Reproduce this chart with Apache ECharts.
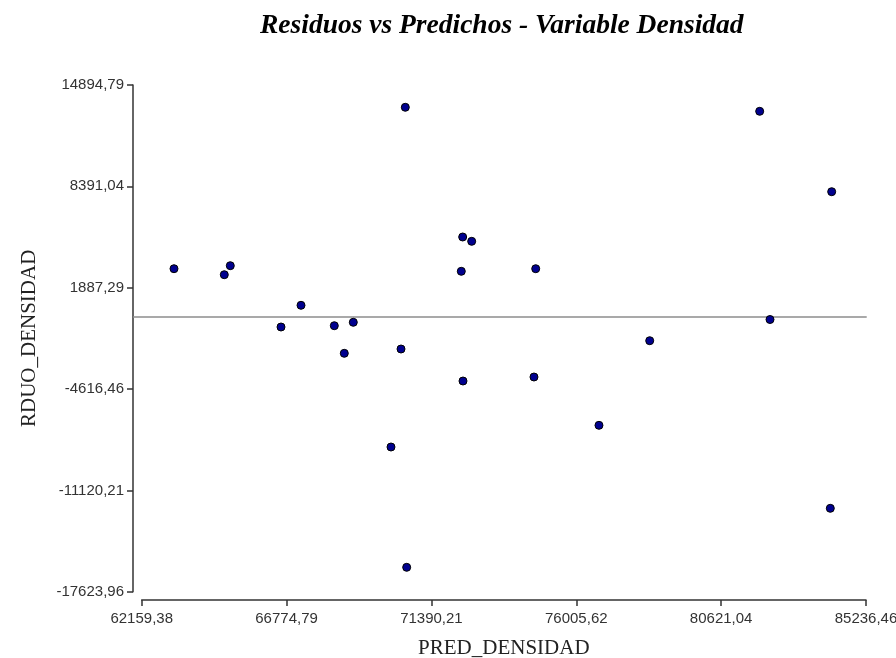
<!DOCTYPE html>
<html>
<head>
<meta charset="utf-8">
<script src="https://cdn.jsdelivr.net/npm/echarts@6/dist/echarts.min.js"></script>
<style>
html, body { margin: 0; padding: 0; background: #fff; }
#container { width: 896px; height: 658px; }
</style>
</head>
<body>
<div id="container"></div>
<script>
var dom = document.getElementById("container");
var myChart = echarts.init(dom);

// tick labels as printed on the axes
var xTickLabels = ['62159,38', '66774,79', '71390,21', '76005,62', '80621,04', '85236,46'];
var yTickLabels = ['-17623,96', '-11120,21', '-4616,46', '1887,29', '8391,04', '14894,79'];
var xMin = 62159.38, xMax = 85236.46;
var yMin = -17623.96, yMax = 14894.79;

// predicted value (x) and residual (y) per observation
var predichos = [63188, 64791, 64982, 70558, 72386, 72673, 72342, 67235, 66598, 68296, 68901, 81849,
                 84143, 74713, 82178, 68614, 70421, 72396, 70102, 70602, 74658, 76729, 78345, 84099];
var residuos = [3105, 2720, 3298, 13464, 5140, 4863, 2938, 756, -637, -553, -335, 13207,
                8047, 3105, -155, -2325, -2049, -4102, -8338, -16059, -3846, -6946, -1516, -12273];

var puntos = predichos.map(function (x, i) { return [x, residuos[i]]; });
var xInterval = (xMax - xMin) / (xTickLabels.length - 1);
var yInterval = (yMax - yMin) / (yTickLabels.length - 1);

function labelFor(list, min, step) {
    return function (v) {
        var i = Math.round((v - min) / step);
        return list[i] !== undefined ? list[i] : '';
    };
}

var option = {
    backgroundColor: '#fff',
    animation: false,
    title: {
        text: 'Residuos vs Predichos - Variable Densidad',
        left: 255,
        top: 7,
        textStyle: {
            fontFamily: 'Liberation Serif',
            fontStyle: 'italic',
            fontWeight: 'bold',
            fontSize: 27.5,
            color: '#000'
        }
    },
    grid: [
        { left: 141.7, right: 30, top: 85, bottom: 66.3, outerBoundsMode: 'none', containLabel: false },
        { left: 133, right: 29.3, top: 85, bottom: 66.3, outerBoundsMode: 'none', containLabel: false }
    ],
    xAxis: [{
        type: 'value',
        gridIndex: 0,
        min: xMin,
        max: xMax,
        interval: xInterval,
        offset: 8.3,
        name: 'PRED_DENSIDAD',
        nameLocation: 'middle',
        nameGap: 38,
        nameTextStyle: { fontFamily: 'Liberation Serif', fontSize: 21, color: '#222' },
        axisLine: { show: true, onZero: false, lineStyle: { color: '#333', width: 1.5 } },
        axisTick: { show: true, length: 6, lineStyle: { color: '#333', width: 1.5 } },
        axisLabel: {
            margin: 11,
            fontFamily: 'Liberation Sans',
            fontSize: 15,
            color: '#333',
            formatter: labelFor(xTickLabels, xMin, xInterval)
        },
        splitLine: { show: false }
    }, {
        type: 'value', gridIndex: 1, min: 0, max: 1, show: false
    }],
    yAxis: [{
        type: 'value',
        gridIndex: 0,
        min: yMin,
        max: yMax,
        interval: yInterval,
        offset: 8.7,
        name: 'RDUO_DENSIDAD',
        nameLocation: 'middle',
        nameGap: 93,
        nameTextStyle: { fontFamily: 'Liberation Serif', fontSize: 21, color: '#222' },
        axisLine: { show: true, onZero: false, lineStyle: { color: '#333', width: 1.5 } },
        axisTick: { show: true, length: 6, lineStyle: { color: '#333', width: 1.5 } },
        axisLabel: {
            margin: 9,
            fontFamily: 'Liberation Sans',
            fontSize: 15,
            color: '#333',
            formatter: labelFor(yTickLabels, yMin, yInterval)
        },
        splitLine: { show: false }
    }, {
        type: 'value', gridIndex: 1, min: yMin, max: yMax, show: false
    }],
    series: [
        {
            name: 'Cero',
            type: 'line',
            xAxisIndex: 1,
            yAxisIndex: 1,
            data: [[0, 0], [1, 0]],
            symbol: 'none',
            lineStyle: { color: '#8c8c8c', width: 1.5 },
            silent: true,
            z: 1
        },
        {
            name: 'Residuos',
            type: 'scatter',
            xAxisIndex: 0,
            yAxisIndex: 0,
            symbolSize: 8,
            itemStyle: { color: '#00008f', borderColor: '#000', borderWidth: 1, opacity: 1 },
            data: puntos,
            z: 3
        }
    ]
};

if (option && typeof option === "object") {
    myChart.setOption(option, true);
}
</script>
</body>
</html>
